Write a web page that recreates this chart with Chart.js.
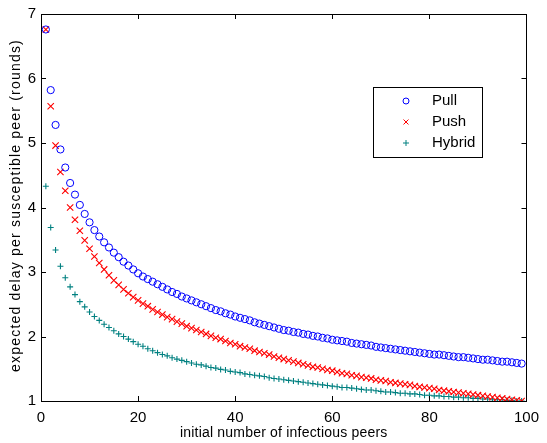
<!DOCTYPE html>
<html>
<head>
<meta charset="utf-8">
<script src="https://cdn.jsdelivr.net/npm/chart.js@4/dist/chart.umd.min.js"></script>
<style>
  html, body { margin: 0; padding: 0; background: #fff; }
  #wrap { width: 547px; height: 443px; }
</style>
</head>
<body>
<div id="wrap"><canvas id="delayChart" width="547" height="443"></canvas></div>
<script>
// initial number of infectious peers
const peers = [];
for (let i = 1; i <= 99; i++) peers.push(i);

const pullDelay = [
  6.76, 5.82, 5.28, 4.90, 4.62, 4.38, 4.20, 4.04, 3.90, 3.77,
  3.65, 3.55, 3.46, 3.38, 3.30, 3.23, 3.16, 3.10, 3.04, 2.98,
  2.93, 2.89, 2.85, 2.81, 2.77, 2.73, 2.69, 2.66, 2.62, 2.59,
  2.56, 2.53, 2.50, 2.47, 2.44, 2.41, 2.39, 2.36, 2.34, 2.31,
  2.29, 2.27, 2.25, 2.22, 2.20, 2.18, 2.16, 2.14, 2.12, 2.10,
  2.09, 2.07, 2.06, 2.04, 2.03, 2.01, 2.00, 1.98, 1.97, 1.95,
  1.94, 1.93, 1.92, 1.90, 1.89, 1.88, 1.87, 1.86, 1.84, 1.83,
  1.82, 1.81, 1.80, 1.79, 1.78, 1.77, 1.76, 1.75, 1.74, 1.73,
  1.72, 1.72, 1.71, 1.70, 1.69, 1.68, 1.68, 1.67, 1.66, 1.65,
  1.64, 1.64, 1.63, 1.62, 1.61, 1.61, 1.60, 1.59, 1.58
];

const pushDelay = [
  6.76, 5.57, 4.96, 4.55, 4.26, 4.00, 3.81, 3.64, 3.49, 3.36,
  3.24, 3.14, 3.04, 2.95, 2.87, 2.80, 2.73, 2.67, 2.61, 2.56,
  2.51, 2.47, 2.42, 2.38, 2.34, 2.30, 2.27, 2.23, 2.20, 2.16,
  2.13, 2.10, 2.07, 2.04, 2.01, 1.98, 1.96, 1.93, 1.90, 1.88,
  1.85, 1.83, 1.81, 1.78, 1.76, 1.74, 1.72, 1.69, 1.67, 1.65,
  1.63, 1.61, 1.59, 1.57, 1.55, 1.53, 1.52, 1.50, 1.48, 1.47,
  1.45, 1.43, 1.42, 1.40, 1.39, 1.37, 1.36, 1.35, 1.33, 1.32,
  1.31, 1.29, 1.28, 1.27, 1.26, 1.25, 1.23, 1.22, 1.21, 1.20,
  1.19, 1.17, 1.16, 1.15, 1.14, 1.13, 1.12, 1.11, 1.10, 1.09,
  1.08, 1.07, 1.06, 1.05, 1.04, 1.03, 1.02, 1.01, 1.00
];

const hybridDelay = [
  4.33, 3.69, 3.34, 3.09, 2.91, 2.77, 2.65, 2.54, 2.46, 2.38,
  2.31, 2.25, 2.19, 2.14, 2.09, 2.04, 2.00, 1.96, 1.92, 1.88,
  1.85, 1.81, 1.78, 1.75, 1.72, 1.70, 1.67, 1.65, 1.63, 1.61,
  1.59, 1.57, 1.56, 1.54, 1.52, 1.51, 1.49, 1.48, 1.46, 1.45,
  1.44, 1.42, 1.41, 1.40, 1.39, 1.38, 1.36, 1.35, 1.34, 1.33,
  1.32, 1.31, 1.30, 1.29, 1.28, 1.27, 1.26, 1.25, 1.24, 1.23,
  1.22, 1.21, 1.21, 1.20, 1.19, 1.18, 1.17, 1.17, 1.16, 1.15,
  1.14, 1.14, 1.13, 1.12, 1.12, 1.11, 1.11, 1.10, 1.09, 1.09,
  1.08, 1.08, 1.07, 1.07, 1.06, 1.06, 1.05, 1.05, 1.04, 1.04,
  1.03, 1.03, 1.02, 1.02, 1.02, 1.01, 1.01, 1.00, 1.00
];

const xTicks = [0, 20, 40, 60, 80, 100];
const yTicks = [1, 2, 3, 4, 5, 6, 7];
const seriesNames = ['Pull', 'Push', 'Hybrid'];

const FONT = '"Liberation Sans", Arial, Helvetica, sans-serif';
const X_TITLE = 'initial number of infectious peers';
const Y_TITLE = 'expected delay per susceptible peer (rounds)';

function toPoints(values) {
  return values.map((v, i) => ({ x: peers[i], y: v }));
}

// MATLAB-like box with inward ticks on all four sides, plus axis titles
const boxPlugin = {
  id: 'boxTicks',
  afterDraw(chart) {
    const { ctx, chartArea: a, scales } = chart;
    ctx.save();
    ctx.strokeStyle = '#000';
    ctx.lineWidth = 1;
    ctx.strokeRect(Math.round(a.left) + 0.5, Math.round(a.top) + 0.5,
      Math.round(a.right - a.left), Math.round(a.bottom - a.top));
    const len = 5;
    ctx.beginPath();
    xTicks.forEach(t => {
      const px = Math.round(scales.x.getPixelForValue(t)) + 0.5;
      ctx.moveTo(px, a.bottom); ctx.lineTo(px, a.bottom - len);
      ctx.moveTo(px, a.top); ctx.lineTo(px, a.top + len);
    });
    yTicks.forEach(t => {
      const py = Math.round(scales.y.getPixelForValue(t)) + 0.5;
      ctx.moveTo(a.left, py); ctx.lineTo(a.left + len, py);
      ctx.moveTo(a.right, py); ctx.lineTo(a.right - len, py);
    });
    ctx.stroke();

    ctx.font = '14px ' + FONT;
    ctx.fillStyle = '#000';
    ctx.textAlign = 'center';
    ctx.textBaseline = 'middle';
    ctx.letterSpacing = '0.2px';
    ctx.fillText(X_TITLE, (a.left + a.right) / 2, 433);

    // rotated y title, spaced out like the original
    ctx.translate(16, (a.top + a.bottom) / 2 - 2);
    ctx.rotate(-Math.PI / 2);
    ctx.letterSpacing = '1.2px';
    ctx.fillText(Y_TITLE, 0, 0);
    ctx.restore();
  }
};

// legend box inside the plot
const legendPlugin = {
  id: 'innerLegend',
  afterDraw(chart) {
    const ctx = chart.ctx;
    const x0 = 373, y0 = 87, w = 109, h = 70;
    ctx.save();
    ctx.fillStyle = '#fff';
    ctx.fillRect(x0, y0, w, h);
    ctx.strokeStyle = '#000';
    ctx.lineWidth = 1;
    ctx.strokeRect(x0 + 0.5, y0 + 0.5, w, h);
    ctx.font = '15px ' + FONT;
    ctx.textBaseline = 'middle';
    chart.data.datasets.forEach((ds, i) => {
      const cy = y0 + 14 + i * 21;
      ctx.strokeStyle = ds.borderColor;
      ctx.fillStyle = ds.backgroundColor;
      ctx.lineWidth = 1;
      Chart.helpers.drawPoint(ctx, {
        pointStyle: ds.pointStyle,
        radius: ds.pointStyle === 'crossRot' ? 3.5 : 3,
        borderWidth: 1
      }, 406, cy);
      ctx.fillStyle = '#000';
      ctx.fillText(ds.label, 432, cy);
    });
    ctx.restore();
  }
};

new Chart(document.getElementById('delayChart'), {
  type: 'scatter',
  data: {
    datasets: [
      {
        label: seriesNames[0],
        data: toPoints(pullDelay),
        pointStyle: 'circle',
        pointRadius: 3.6,
        borderColor: '#0000ff',
        backgroundColor: 'rgba(0,0,0,0)',
        borderWidth: 1
      },
      {
        label: seriesNames[1],
        data: toPoints(pushDelay),
        pointStyle: 'crossRot',
        pointRadius: 4.5,
        borderColor: '#ff0000',
        backgroundColor: '#ff0000',
        borderWidth: 1.1
      },
      {
        label: seriesNames[2],
        data: toPoints(hybridDelay),
        pointStyle: 'cross',
        pointRadius: 3,
        borderColor: '#008080',
        backgroundColor: '#008080',
        borderWidth: 1.1
      }
    ]
  },
  options: {
    responsive: false,
    animation: false,
    layout: { padding: { top: 11, right: 12, left: 0, bottom: 0 } },
    plugins: {
      legend: { display: false },
      tooltip: { enabled: false }
    },
    scales: {
      x: {
        type: 'linear',
        min: 0,
        max: 100,
        afterBuildTicks: s => { s.ticks = xTicks.map(v => ({ value: v })); },
        afterFit: s => { s.height = 42; },
        grid: { display: false, drawTicks: false },
        border: { display: false },
        ticks: { color: '#000', font: { size: 15, family: FONT }, padding: 8 },
        title: { display: false }
      },
      y: {
        type: 'linear',
        min: 1,
        max: 7,
        afterBuildTicks: s => { s.ticks = yTicks.map(v => ({ value: v })); },
        afterFit: s => { s.width = 41; },
        grid: { display: false, drawTicks: false },
        border: { display: false },
        ticks: { color: '#000', font: { size: 15, family: FONT }, padding: 5 },
        title: { display: false }
      }
    }
  },
  plugins: [boxPlugin, legendPlugin]
});
</script>
</body>
</html>
